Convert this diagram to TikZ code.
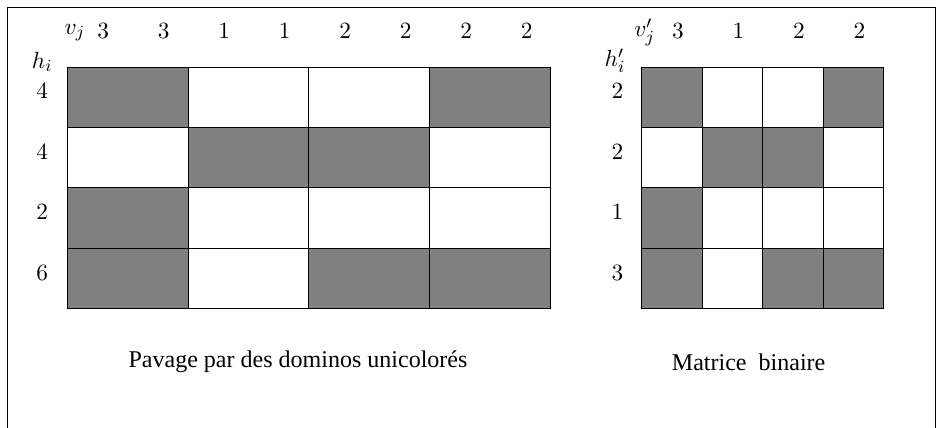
\documentclass[tikz,border=0pt]{standalone}
\usepackage{fontspec}
\usepackage{tikz}
\newfontfamily\legendfont{Liberation Serif}
\definecolor{dominogray}{HTML}{808080}

\tikzset{
  label/.style={inner sep=0pt, font=\fontsize{11}{13}\selectfont},
  legend/.style={inner sep=0pt, font=\legendfont\fontsize{11.3}{13}\selectfont},
  cell/.style={fill=dominogray}
}

\begin{document}
\begin{tikzpicture}
    \clip (-1.107,-1.967) rectangle (14.5,5.107);
    \draw (-0.99,-3) rectangle (14.36,4.99);

    % pavage par dominos 2x1
    \foreach \x/\y in {0/3,6/3,2/2,4/2,0/1,0/0,4/0,6/0}
      \fill[cell] (\x,\y) rectangle ++(2,1);
    \draw[xstep=2,ystep=1] (0,0) grid (8,4);

    % matrice binaire associee
    \begin{scope}[xshift=9.5cm]
      \foreach \x/\y in {0/3,3/3,1/2,2/2,0/1,0/0,2/0,3/0}
        \fill[cell] (\x,\y) rectangle ++(1,1);
      \draw (0,0) grid (4,4);
    \end{scope}

    % sommes par colonne et par ligne
    \node[label] (vj) at (0.13,4.57) {$v_j$};
    \foreach \v [count=\i] in {3,3,1,1,2,2,2,2}
      \node[label] (v\i) at (\i-0.4,4.6) {$\v$};
    \node[label] (hi) at (-0.41,4.08) {$h_i$};
    \foreach \h [count=\i] in {4,4,2,6}
      \node[label] (h\i) at (-0.41,4.6-\i) {$\h$};

    \node[label] (vbj) at (9.55,4.57) {$v'_j$};
    \foreach \v [count=\i] in {3,1,2,2}
      \node[label] (vb\i) at (9.1+\i,4.6) {$\v$};
    \node[label] (hbi) at (9.06,4.1) {$h'_i$};
    \foreach \h [count=\i] in {2,2,1,3}
      \node[label] (hb\i) at (9.1,4.6-\i) {$\h$};

    \node[legend] (pavage) at (3.82,-0.88) {Pavage par des dominos unicolorés};
    \node[legend] (matrice) at (11.27,-0.88) {Matrice~ binaire};
\end{tikzpicture}
\end{document}
